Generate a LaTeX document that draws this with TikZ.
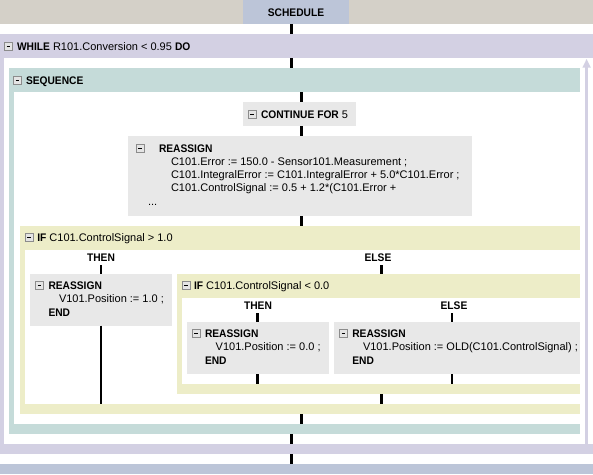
\documentclass[tikz,border=0pt]{standalone}
\usepackage{fontspec}
\setmainfont{Liberation Sans}[BoldFeatures={FakeStretch=0.93}]
\definecolor{topgrey}{HTML}{D4D0C8}
\definecolor{schedblue}{HTML}{BCC5D8}
\definecolor{lav}{HTML}{D3D0E3}
\definecolor{seqteal}{HTML}{C5DBD9}
\definecolor{ifyel}{HTML}{EDEDC8}
\definecolor{boxgrey}{HTML}{E8E8E8}
\definecolor{icongrey}{HTML}{8C8C8C}
\definecolor{iconfill}{HTML}{E4E4E4}
\newcommand\blkbox[6]{\node[blk, fill=#6, minimum width=#4pt, minimum height=#5pt] (#1) at (#2,#3) {};}
\begin{document}
\begin{tikzpicture}[x=1pt,y=-1pt,
  font=\fontsize{11}{13}\selectfont,
  blk/.style={inner sep=0pt, outer sep=0pt, anchor=north west, draw=none},
  txt/.style={inner sep=0pt, outer sep=0pt, anchor=base west},
  lbl/.style={inner sep=0pt, outer sep=0pt, anchor=base, font=\fontsize{11}{13}\selectfont\bfseries},
  conn/.style={line width=2.7pt, black},
  minusicon/.pic={
    \draw[draw=icongrey, fill=iconfill, line width=0.8pt] (0.5,0.5) rectangle (8.5,8.5);
    \draw[line width=1.3pt, black] (2.6,4.5) -- (6.4,4.5);
  }]
\fill[white] (0,0) rectangle (593,474);
\useasboundingbox (0,0) rectangle (593,474);

% ---- bands and boxes ----
\blkbox{topband}{0}{0}{593}{24}{topgrey}
\blkbox{sched}{243}{0}{106}{24}{schedblue}
\blkbox{whileh}{0}{34}{593}{24}{lav}
\blkbox{whileL}{0}{58}{4}{386}{lav}
\blkbox{whileb}{0}{444}{593}{10}{lav}
\blkbox{endband}{0}{464}{593}{10}{schedblue}

\blkbox{seqh}{9}{68}{571}{24}{seqteal}
\blkbox{seqL}{9}{92}{5}{332}{seqteal}
\blkbox{seqb}{9}{424}{571}{10}{seqteal}

\blkbox{cont}{243}{102}{112.5}{24}{boxgrey}
\blkbox{reas1}{128.3}{136}{343.4}{80}{boxgrey}

\blkbox{ifh}{20}{226}{560}{24}{ifyel}
\blkbox{ifL}{20}{250}{5}{154}{ifyel}
\blkbox{ifb}{20}{404}{560}{10}{ifyel}

\blkbox{then1}{30}{274}{141.7}{51.7}{boxgrey}

\blkbox{iftwoh}{176.7}{274}{403.3}{24}{ifyel}
\blkbox{iftwoL}{176.7}{298}{5.6}{86}{ifyel}
\blkbox{iftwob}{176.7}{384}{403.3}{10}{ifyel}

\blkbox{then2}{186.7}{322.3}{142.6}{51.7}{boxgrey}
\blkbox{else2}{334}{322.3}{246}{51.7}{boxgrey}

% ---- loop-back arrow of WHILE ----
\coordinate (looptip) at (586.6,59);
\fill[lav] (looptip) -- ++(-4.2,8.5) -- ++(8.4,0) -- cycle;
\draw[lav, line width=3.3pt] (whileb.north -| looptip) -- ([yshift=-8pt]looptip);

% ---- connector x positions ----
\coordinate (xA) at (291.3,0);
\coordinate (xB) at (301.5,0);
\coordinate (xC) at (101,0);
\coordinate (xD) at (381.3,0);
\coordinate (xE) at (257.5,0);
\coordinate (xF) at (452,0);

% ---- texts ----
\node[lbl] (schedt) at (296,16) {SCHEDULE};

\pic at (4,42) {minusicon};
\node[txt] (whilet) at (17,50) {\textbf{WHILE} R101.Conversion < 0.95 \textbf{DO}};

\pic at (13,76) {minusicon};
\node[txt] (seqt) at (26,84) {\textbf{SEQUENCE}};

\pic at (247.5,110) {minusicon};
\node[txt] (contt) at (261,118) {\textbf{CONTINUE FOR} 5};

\pic at (135.5,144) {minusicon};
\node[txt] (reas1t) at (159,152) {\textbf{REASSIGN}};
\node[txt] (reas1a) at (171,165) {C101.Error := 150.0 - Sensor101.Measurement ;};
\node[txt] (reas1b) at (171,178) {C101.IntegralError := C101.IntegralError + 5.0*C101.Error ;};
\node[txt] (reas1c) at (171,191) {C101.ControlSignal := 0.5 + 1.2*(C101.Error +};
\node[txt] (reas1d) at (148,205) {...};

\pic at (24.5,233) {minusicon};
\node[txt] (ift) at (37.3,241.5) {\textbf{IF} C101.ControlSignal > 1.0};
\node[lbl] (thenA) at (101,261) {THEN};
\node[lbl] (elseA) at (378,261) {ELSE};

\pic at (35,281) {minusicon};
\node[txt] (then1t) at (48.5,289) {\textbf{REASSIGN}};
\node[txt] (then1a) at (59,302.5) {V101.Position := 1.0 ;};
\node[txt] (then1e) at (48.5,316) {\textbf{END}};

\pic at (181.5,281) {minusicon};
\node[txt] (iftwot) at (194,289.5) {\textbf{IF} C101.ControlSignal < 0.0};
\node[lbl] (thenB) at (258,309) {THEN};
\node[lbl] (elseB) at (454,309) {ELSE};

\pic at (191.7,329.3) {minusicon};
\node[txt] (then2t) at (205,337.3) {\textbf{REASSIGN}};
\node[txt] (then2a) at (215.7,350.8) {V101.Position := 0.0 ;};
\node[txt] (then2e) at (205,364.3) {\textbf{END}};

\pic at (339,329.3) {minusicon};
\node[txt] (else2t) at (352.3,337.3) {\textbf{REASSIGN}};
\node[txt] (else2a) at (363,350.8) {V101.Position := OLD(C101.ControlSignal) ;};
\node[txt] (else2e) at (352.3,364.3) {\textbf{END}};

% ---- connectors ----
\draw[conn] (sched.south -| xA) -- (whileh.north -| xA);
\draw[conn] (whileh.south -| xA) -- (seqh.north -| xA);
\draw[conn] (seqb.south -| xA) -- (whileb.north -| xA);
\draw[conn] (whileb.south -| xA) -- (endband.north -| xA);

\draw[conn] (seqh.south -| xB) -- (cont.north -| xB);
\draw[conn] (cont.south -| xB) -- (reas1.north -| xB);
\draw[conn] (reas1.south -| xB) -- (ifh.north -| xB);
\draw[conn] (ifb.south -| xB) -- (seqb.north -| xB);

\draw[conn] (thenA.base -| xC) ++(0,4) -- (then1.north -| xC);
\draw[conn] (then1.south -| xC) -- (ifb.north -| xC);
\draw[conn] (elseA.base -| xD) ++(0,4) -- (iftwoh.north -| xD);
\draw[conn] (iftwob.south -| xD) -- (ifb.north -| xD);

\draw[conn] (thenB.base -| xE) ++(0,4) -- (then2.north -| xE);
\draw[conn] (then2.south -| xE) -- (iftwob.north -| xE);
\draw[conn] (elseB.base -| xF) ++(0,4) -- (else2.north -| xF);
\draw[conn] (else2.south -| xF) -- (iftwob.north -| xF);
\end{tikzpicture}
\end{document}
